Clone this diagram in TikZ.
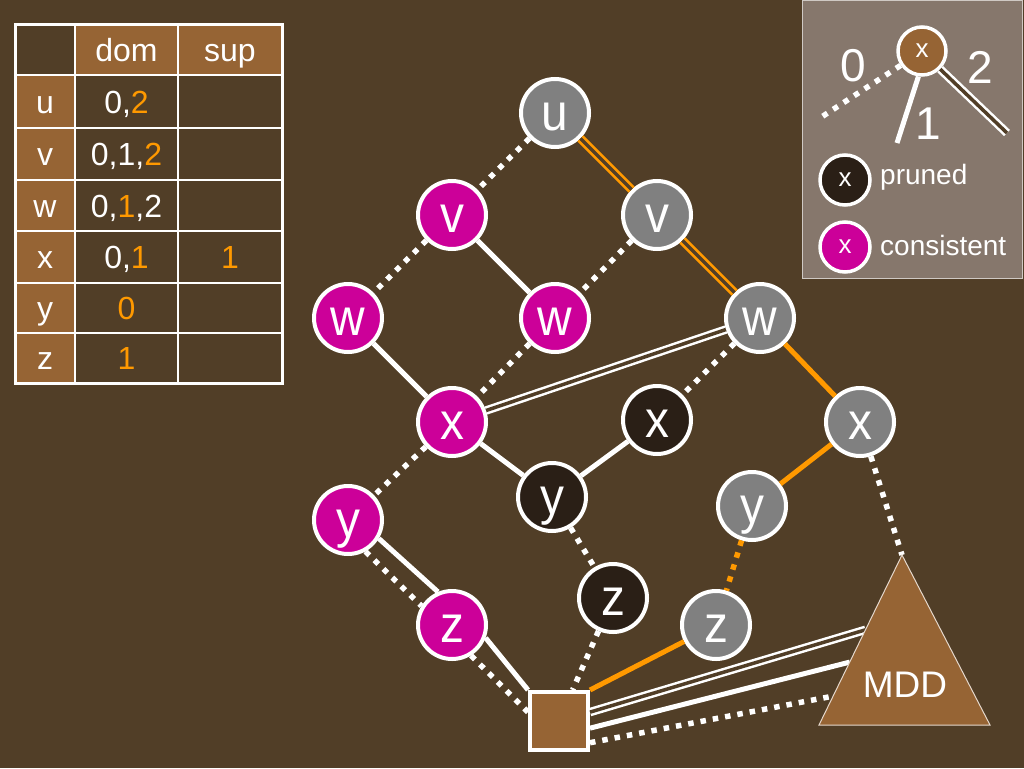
\documentclass[tikz,border=0pt]{standalone}
\usepackage{fontspec}
\setmainfont{Liberation Sans}
\newfontfamily\nodefont[FakeStretch=0.92]{Liberation Sans}
\usetikzlibrary{calc}
\definecolor{bg}{RGB}{81,62,39}
\definecolor{brn}{RGB}{150,100,52}
\definecolor{mag}{RGB}{204,0,153}
\definecolor{gr}{RGB}{128,128,128}
\definecolor{dk}{RGB}{42,31,22}
\definecolor{orng}{RGB}{255,153,0}
\definecolor{lg}{RGB}{134,119,108}
\tikzset{
  vn/.style={circle, draw=white, line width=4pt, minimum size=68pt, inner sep=0pt,
    text=white, font=\nodefont\fontsize{52}{52}\selectfont, text height=35pt, text depth=0pt},
  cons/.style={vn, fill=mag},
  prun/.style={vn, fill=dk},
  grayn/.style={vn, fill=gr},
  lgn/.style={circle, draw=white, line width=3.5pt, minimum size=48pt, inner sep=0pt,
    text=white, font=\fontsize{26}{26}\selectfont, text height=13.5pt, text depth=0pt},
  zero/.style={draw=white, line width=5.5pt, dash pattern=on 5.5pt off 7pt},
  one/.style={draw=white, line width=5pt},
  two/.style={draw=white, double=bg, line width=2.5pt, double distance=3.5pt},
  ozero/.style={zero, draw=orng},
  oone/.style={one, draw=orng},
  otwo/.style={two, draw=orng, double=bg},
  tcell/.style={font=\fontsize{32}{32}\selectfont, text=white, text height=23pt, text depth=0pt, inner sep=0pt},
  lnum/.style={font=\fontsize{46}{46}\selectfont, text=white, inner sep=0pt},
  ltxt/.style={font=\fontsize{28}{28}\selectfont, text=white, inner sep=0pt, anchor=west},
}
\begin{document}
\begin{tikzpicture}[x=1pt,y=-1pt]
\fill[bg] (0,0) rectangle (1024,768);
\useasboundingbox (0,0) rectangle (1024,768);

% ---------- table ----------
\fill[brn] (75,25) rectangle (282,75);
\fill[brn] (15,75) rectangle (75,383);
\foreach \yy in {75,128,180,231,283,333} \draw[white, line width=2pt] (15,\yy) -- (282,\yy);
\foreach \xx in {75,178} \draw[white, line width=2pt] (\xx,25) -- (\xx,383);
\draw[white, line width=3pt] (15,25) rectangle (282,383);
\node[tcell] (hdom) at (126.5,50) {dom};
\node[tcell] (hsup) at (230,50) {sup};
\node[tcell] (ru) at (45,101.5) {u};
\node[tcell] (rv) at (45,154) {v};
\node[tcell] (rw) at (45,205.5) {w};
\node[tcell] (rx) at (45,257) {x};
\node[tcell] (ry) at (45,308) {y};
\node[tcell] (rz) at (45,358) {z};
\node[tcell] (du) at (126.5,101.5) {0,\textcolor{orng}{2}};
\node[tcell] (dv) at (126.5,154) {0,1,\textcolor{orng}{2}};
\node[tcell] (dw) at (126.5,205.5) {0,\textcolor{orng}{1},2};
\node[tcell] (dx) at (126.5,257) {0,\textcolor{orng}{1}};
\node[tcell, text=orng] (dy) at (126.5,308) {0};
\node[tcell, text=orng] (dz) at (126.5,358) {1};
\node[tcell, text=orng] (sx) at (230,257) {1};

% ---------- legend ----------
\draw[fill=lg, draw=white!60!lg, line width=1pt] (802,1) rectangle (1022,278);
\node[lgn, fill=brn] (lx) at (922,51) {x};
\coordinate (l0) at (820,118);
\coordinate (l1) at (897,143);
\coordinate (l2) at (1007,133);
\draw[zero] (lx.214) -- (l0);
\draw[one] (lx.-98) -- (l1);
\draw[two] (lx.-45) -- (l2);
\node[lnum] (n0) at (853,66) {0};
\node[lnum] (n2) at (980,67) {2};
\node[lnum] (n1) at (928,124) {1};
\node[lgn, fill=dk, minimum size=50pt] (lp) at (845,180) {x};
\node[lgn, fill=mag, minimum size=50pt] (lc) at (845,247) {x};
\node[ltxt] (tp) at (880,177) {pruned};
\node[ltxt] (tc) at (880,245) {consistent};

% ---------- nodes ----------
\node[grayn] (u) at (555,113) {u};
\node[cons] (v1) at (452,215) {v};
\node[grayn] (v2) at (657,215) {v};
\node[cons] (w1) at (348,318) {w};
\node[cons] (w2) at (555,318) {w};
\node[grayn] (w3) at (760,318) {w};
\node[cons] (x1) at (452,422) {x};
\node[prun] (x2) at (657,420) {x};
\node[grayn] (x3) at (860,422) {x};
\node[cons] (y1) at (348,520) {y};
\node[prun] (y2) at (552,497) {y};
\node[grayn] (y3) at (752,506) {y};
\node[cons] (z1) at (452,625) {z};
\node[prun] (z2) at (613,598) {z};
\node[grayn] (z3) at (716,625) {z};
\node[draw=white, fill=brn, line width=4pt, minimum size=58pt, inner sep=0pt] (sq) at (559,721) {};

% triangle coordinates
\coordinate (tl) at (819,725);
\coordinate (apex) at (902,555);
\coordinate (tr) at (990,725);
\coordinate (t1) at ($(tl)!0.56!(apex)$);
\coordinate (t2) at ($(tl)!0.37!(apex)$);
\coordinate (t3) at ($(tl)!0.17!(apex)$);

% ---------- edges ----------
\draw[zero] (u) -- (v1);
\draw[otwo] (u) -- (v2);
\draw[zero] (v1) -- (w1);
\draw[one] (v1) -- (w2);
\draw[zero] (v2) -- (w2);
\draw[otwo] (v2) -- (w3);
\draw[one] (w1) -- (x1);
\draw[zero] (w2) -- (x1);
\draw[two] (w3) -- (x1);
\draw[zero] (w3) -- (x2);
\draw[oone] (w3) -- (x3);
\draw[zero] (x1) -- (y1);
\draw[one] (x1) -- (y2);
\draw[one] (x2) -- (y2);
\draw[oone] (x3) -- (y3);
\draw[zero] (x3) -- (apex);
\draw[one] (y1.-31) -- (z1.113);
\draw[zero] (y1.-61) -- (z1.148);
\draw[zero] (y2) -- (z2);
\draw[ozero] (y3) -- (z3);
\draw[one] (z1.-21) -- (sq.north west);
\draw[zero] (z1.-58) -- (sq.164);
\draw[zero] (z2) -- (sq);
\draw[oone] (z3) -- (sq.north east);
\draw[two] (sq.16) -- (t1);
\draw[one] (sq.-13) -- (t2);
\draw[zero] (sq.-35) -- (t3);

% triangle
\draw[fill=brn, draw=white!75!brn, line width=1pt] (tl) -- (apex) -- (tr) -- cycle;
\node[font=\fontsize{37}{37}\selectfont, text=white, inner sep=0pt] (mdd) at (905,685) {MDD};
\end{tikzpicture}
\end{document}
